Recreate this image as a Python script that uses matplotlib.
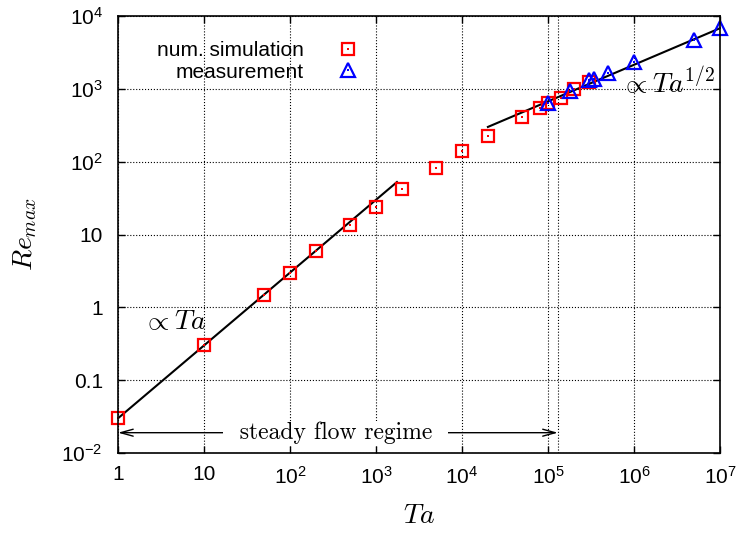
import numpy as np
import matplotlib.pyplot as plt
import matplotlib.ticker as ticker

plt.rcParams['font.family'] = ['Liberation Sans', 'DejaVu Sans']
plt.rcParams['mathtext.fontset'] = 'custom'
plt.rcParams['mathtext.rm'] = 'Liberation Sans'
plt.rcParams['mathtext.it'] = 'Liberation Sans:italic'

# numerical simulation
ta_sim = [1, 10, 50, 100, 200, 500, 1000, 2000, 5000, 1e4, 2e4,
          5e4, 8e4, 1e5, 1.4e5, 2e5, 3e5]
re_sim = [0.03, 0.3, 1.5, 3.0, 5.9, 13.5, 24, 42, 83, 142, 226,
          408, 548, 630, 760, 990, 1250]
# measurement
ta_exp = [1e5, 1.8e5, 3e5, 3.4e5, 5e5, 1e6, 5e6, 1e7]
re_exp = [640, 940, 1330, 1370, 1640, 2330, 4710, 6820]
# power law guides (end points)
ta_lin = [1, 1750]
re_lin = [0.03, 52.5]
ta_sqrt = [2e4, 1e7]
re_sqrt = [300, 6800]
ta_crit = 1.3e5
re_arrow = 0.019

xticks = [1, 10, 1e2, 1e3, 1e4, 1e5, 1e6, 1e7]
xticklabels = ['1', '10', '$10^{2}$', '$10^{3}$', '$10^{4}$', '$10^{5}$', '$10^{6}$', '$10^{7}$']
yticks = [1e-2, 0.1, 1, 10, 1e2, 1e3, 1e4]
yticklabels = ['$10^{-2}$', '0.1', '1', '10', '$10^{2}$', '$10^{3}$', '$10^{4}$']

fig, ax = plt.subplots(figsize=(7.38, 5.34), dpi=100)
fig.subplots_adjust(left=0.160, right=0.9756, bottom=0.1517, top=0.970)
ax.set_xscale('log')
ax.set_yscale('log')
ax.set_xlim(1, 1e7)
ax.set_ylim(1e-2, 1e4)

ax.plot(ta_lin, re_lin, color='black', lw=1.5)
ax.plot(ta_sqrt, re_sqrt, color='black', lw=1.5)

sq, = ax.plot(ta_sim, re_sim, ls='none', marker='s', ms=9, mfc='none', mec='red', mew=1.6, clip_on=False)
sqd, = ax.plot(ta_sim, re_sim, ls='none', marker='s', ms=1.5, color='red', mew=0, clip_on=False)
tr, = ax.plot(ta_exp, re_exp, ls='none', marker='^', ms=10, mfc='none', mec='blue', mew=1.6, clip_on=False)
trd, = ax.plot(ta_exp, re_exp, ls='none', marker='s', ms=1.5, color='blue', mew=0, clip_on=False)

ax.legend([(sq, sqd), (tr, trd)], ['num. simulation', 'measurement'],
          markerfirst=False, frameon=False, fontsize=15, handlelength=2,
          handletextpad=1.1, labelspacing=0.12,
          loc='upper right', bbox_to_anchor=(0.525, 0.958), bbox_transform=fig.transFigure)

ax.grid(True, which='major', ls=':', color='black', lw=0.8)
ax.axvline(ta_crit, ls=':', color='black', lw=0.8)
ax.minorticks_off()
ax.xaxis.set_major_locator(ticker.FixedLocator(xticks))
ax.xaxis.set_major_formatter(ticker.FixedFormatter(xticklabels))
ax.yaxis.set_major_locator(ticker.FixedLocator(yticks))
ax.yaxis.set_major_formatter(ticker.FixedFormatter(yticklabels))
ax.tick_params(which='both', direction='in', top=True, right=True, length=5, width=1, labelsize=15)
ax.tick_params(axis='x', pad=9)
ax.tick_params(axis='y', pad=11)
for s in ax.spines.values():
    s.set_linewidth(1.2)

ax.annotate('', xy=(1, re_arrow), xytext=(ta_crit, re_arrow),
            arrowprops=dict(arrowstyle='<->,head_length=0.9,head_width=0.25', color='black', lw=1,
                            shrinkA=0, shrinkB=0))
ax.text(340, re_arrow, '  steady flow regime  ', family='cmr10', fontsize=17, ha='center', va='center',
        bbox=dict(facecolor='white', edgecolor='none', pad=0.5))

ax.text(4.6, 0.63, r'$\propto Ta$', math_fontfamily='cm', fontsize=20, ha='center', va='center')
ax.text(8.7e6, 1250, r'$\propto Ta^{1/2}$', math_fontfamily='cm', fontsize=20, ha='right', va='center')

ax.set_xlabel(r'$Ta$', fontsize=20, math_fontfamily='cm', labelpad=11)
ax.set_ylabel(r'$Re_{max}$', fontsize=20, math_fontfamily='cm', labelpad=16)

plt.savefig('out.png', dpi=100)
